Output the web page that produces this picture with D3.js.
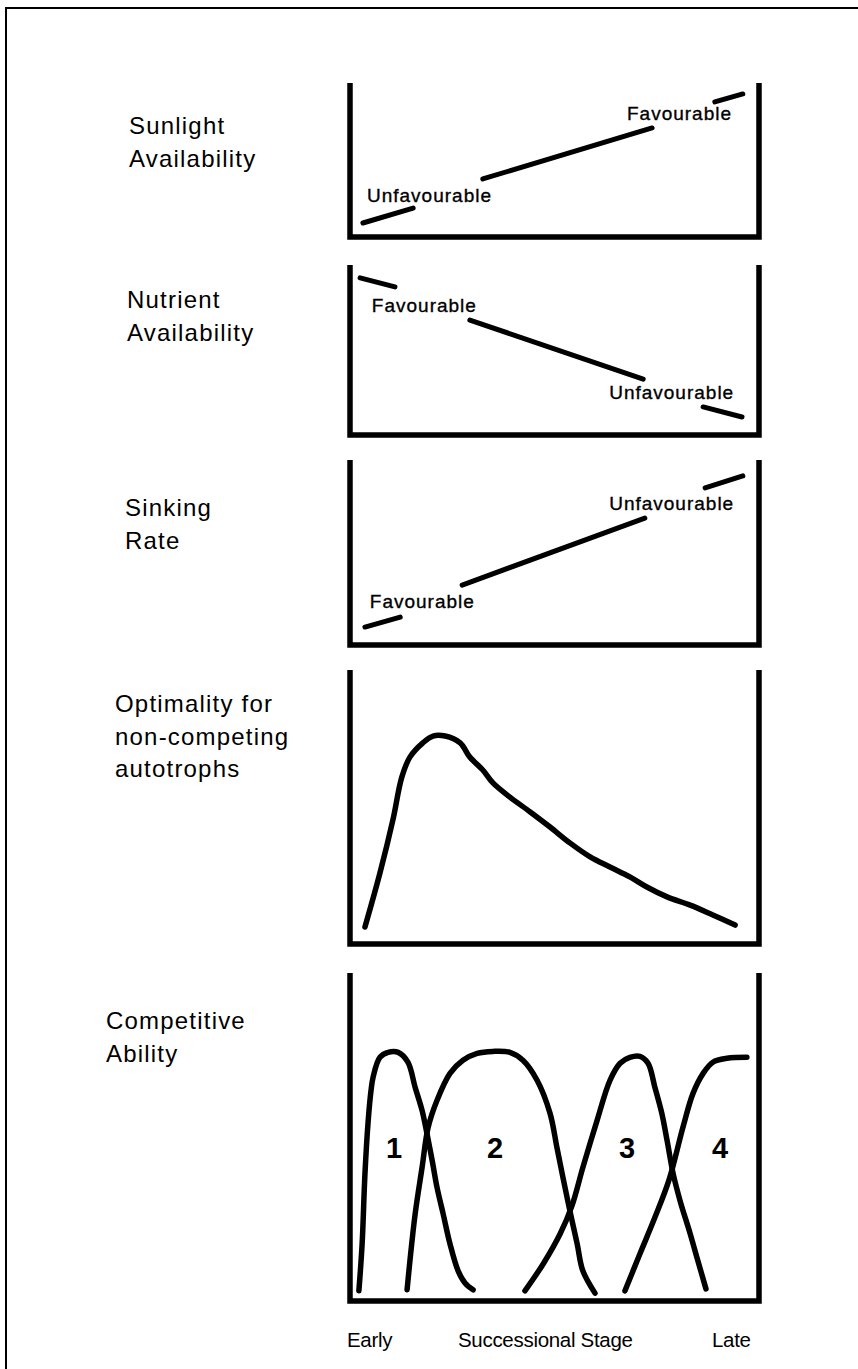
<!DOCTYPE html>
<html>
<head>
<meta charset="utf-8">
<script src="https://cdn.jsdelivr.net/npm/d3@7/dist/d3.min.js"></script>
<style>
  html, body { margin: 0; padding: 0; background: #fff; }
  svg { display: block; }
  text { font-family: "Liberation Sans", Arial, Helvetica, sans-serif; fill: #000; }
</style>
</head>
<body>
<svg id="chart" width="858" height="1369"></svg>
<script>
// ---------------- DATA (x = successional stage 0..100, y = relative level 0..100) ----------------
const panelTitles = [
  ["Sunlight", "Availability"],
  ["Nutrient", "Availability"],
  ["Sinking", "Rate"],
  ["Optimality for", "non-competing", "autotrophs"],
  ["Competitive", "Ability"]
];

// Straight trends, drawn as broken brush strokes (gaps hold the labels)
const sunlightSegments = [
  [[2.7, 9.1], [15.1, 18.8]],
  [[32.3, 37.7], [74.1, 70.8]],
  [[89.6, 87.7], [96.5, 92.9]]
];
const nutrientSegments = [
  [[2.0, 92.4], [10.6, 87.1]],
  [[29.1, 67.6], [71.9, 32.9]],
  [[86.7, 16.5], [96.3, 10.6]]
];
const sinkingSegments = [
  [[3.2, 9.7], [11.9, 15.1]],
  [[27.2, 32.4], [72.3, 68.6]],
  [[87.2, 84.9], [96.5, 91.4]]
];

const sunlightLabels = [
  { text: "Unfavourable", x: 3.7, y: 22.7 },
  { text: "Favourable", x: 67.9, y: 76.0 }
];
const nutrientLabels = [
  { text: "Favourable", x: 4.9, y: 72.4 },
  { text: "Unfavourable", x: 63.5, y: 21.2 }
];
const sinkingLabels = [
  { text: "Favourable", x: 4.4, y: 20.0 },
  { text: "Unfavourable", x: 63.5, y: 73.0 }
];

const optimality = [
  [3.2, 6.2], [6.9, 25.9], [10.1, 45.3], [12.3, 60.9], [14.3, 68.2], [17.5, 73.4],
  [20.0, 75.9], [23.0, 75.9], [26.7, 73.4], [29.1, 68.2], [32.3, 63.5], [34.8, 58.8],
  [39.0, 53.6], [44.0, 48.2], [48.9, 42.7], [53.8, 36.9], [58.8, 31.8], [63.7, 28.1],
  [68.6, 24.5], [72.8, 20.8], [77.8, 17.2], [83.5, 14.2], [89.1, 10.6], [94.6, 6.9]
];

const competitor1 = [
  [1.7, 3.1], [2.5, 17.4], [3.2, 38.8], [4.0, 55.0], [4.7, 64.2], [5.2, 68.2], [6.9, 74.3],
  [8.9, 75.8], [11.4, 75.8], [13.8, 72.8], [15.6, 65.1], [17.3, 58.1], [18.5, 51.1],
  [19.8, 42.8], [21.0, 34.6], [22.5, 26.6], [24.2, 17.4], [26.2, 9.2], [27.9, 5.5], [29.9, 3.4]
];
const competitor2 = [
  [13.6, 3.4], [14.3, 12.2], [15.6, 26.6], [17.3, 40.7], [18.8, 52.9], [21.0, 61.2],
  [24.2, 69.4], [27.4, 73.4], [30.9, 75.5], [34.8, 76.1], [39.0, 75.8], [42.2, 73.4],
  [45.7, 67.3], [48.9, 57.2], [50.6, 46.8], [52.1, 37.6], [53.8, 27.5], [55.6, 17.4],
  [57.0, 9.2], [60.0, 2.4]
];
const competitor3 = [
  [42.7, 3.1], [47.2, 11.3], [51.4, 20.5], [54.3, 29.0], [57.0, 40.7], [60.5, 55.0],
  [63.7, 67.3], [66.2, 72.5], [68.6, 74.3], [71.1, 74.6], [73.1, 72.5], [74.8, 65.1],
  [76.5, 57.2], [77.8, 48.9], [79.3, 38.8], [81.0, 30.6], [83.5, 20.5], [85.2, 13.1], [87.4, 3.7]
];
const competitor4 = [
  [67.4, 3.1], [71.1, 14.4], [74.8, 25.5], [78.3, 37.0], [81.7, 52.9],
  [84.2, 63.3], [86.7, 69.4], [89.1, 72.8], [92.6, 74.0], [97.5, 74.3]
];
const competitorNames = ["1", "2", "3", "4"];
const competitorNameX = [10.4, 35.3, 67.9, 90.9];
const competitorNameY = 43.7;

const stageLabels = ["Early", "Successional Stage", "Late"];

// ---------------- LAYOUT ----------------
const svg = d3.select("#chart");
const frameLeft = 350, frameRight = 759;
const panels = [
  { top: 83,  bottom: 237,  titleX: 129, titleY: 134 },
  { top: 265, bottom: 435,  titleX: 127, titleY: 308 },
  { top: 460, bottom: 645,  titleX: 125, titleY: 516 },
  { top: 670, bottom: 944,  titleX: 115, titleY: 712 },
  { top: 973, bottom: 1301, titleX: 106, titleY: 1029 }
];
const x = d3.scaleLinear().domain([0, 100]).range([352, 757]);

// outer frame (left and top edges)
svg.append("path")
  .attr("d", "M6,1369 L6,8 L858,8")
  .attr("fill", "none").attr("stroke", "#000").attr("stroke-width", 2);

const panelY = panels.map(p => d3.scaleLinear().domain([0, 100]).range([p.bottom, p.top]));

panels.forEach((p, i) => {
  svg.append("path")
    .attr("d", `M${frameLeft},${p.top} L${frameLeft},${p.bottom} L${frameRight},${p.bottom} L${frameRight},${p.top}`)
    .attr("fill", "none").attr("stroke", "#000").attr("stroke-width", 5.5)
    .attr("stroke-linejoin", "miter");
  const t = svg.append("text")
    .attr("x", p.titleX).attr("y", p.titleY)
    .attr("font-size", 24).attr("letter-spacing", 1.2);
  panelTitles[i].forEach((line, j) => {
    t.append("tspan").attr("x", p.titleX).attr("y", p.titleY + j * 32.5).text(line);
  });
});

function drawTrend(idx, segments, labels) {
  const y = panelY[idx];
  const line = d3.line().x(d => x(d[0])).y(d => y(d[1]));
  svg.append("g").selectAll("path").data(segments).join("path")
    .attr("d", line)
    .attr("fill", "none").attr("stroke", "#000")
    .attr("stroke-width", 5).attr("stroke-linecap", "round");
  svg.append("g").selectAll("text").data(labels).join("text")
    .attr("x", d => x(d.x)).attr("y", d => y(d.y))
    .attr("font-size", 19).attr("letter-spacing", 1)
    .attr("stroke", "#000").attr("stroke-width", 0.35)
    .text(d => d.text);
}
drawTrend(0, sunlightSegments, sunlightLabels);
drawTrend(1, nutrientSegments, nutrientLabels);
drawTrend(2, sinkingSegments, sinkingLabels);

// optimality curve
{
  const y = panelY[3];
  const line = d3.line().x(d => x(d[0])).y(d => y(d[1])).curve(d3.curveCatmullRom.alpha(0.5));
  svg.append("path").datum(optimality)
    .attr("d", line).attr("fill", "none").attr("stroke", "#000")
    .attr("stroke-width", 5.5).attr("stroke-linecap", "round").attr("stroke-linejoin", "round");
}

// competitive ability curves
{
  const y = panelY[4];
  const line = d3.line().x(d => x(d[0])).y(d => y(d[1])).curve(d3.curveCatmullRom.alpha(0.5));
  svg.append("g").selectAll("path").data([competitor1, competitor2, competitor3, competitor4]).join("path")
    .attr("d", line).attr("fill", "none").attr("stroke", "#000")
    .attr("stroke-width", 5.5).attr("stroke-linecap", "round").attr("stroke-linejoin", "round");
  svg.append("g").selectAll("text").data(competitorNames).join("text")
    .attr("x", (d, i) => x(competitorNameX[i])).attr("y", y(competitorNameY))
    .attr("text-anchor", "middle").attr("font-size", 29).attr("font-weight", "bold")
    .text(d => d);
}

// bottom stage labels
const stageX = [347, 458, 712];
svg.append("g").selectAll("text").data(stageLabels).join("text")
  .attr("x", (d, i) => stageX[i]).attr("y", 1347)
  .attr("font-size", 20.5).attr("letter-spacing", -0.3)
  .text(d => d);
</script>
</body>
</html>
